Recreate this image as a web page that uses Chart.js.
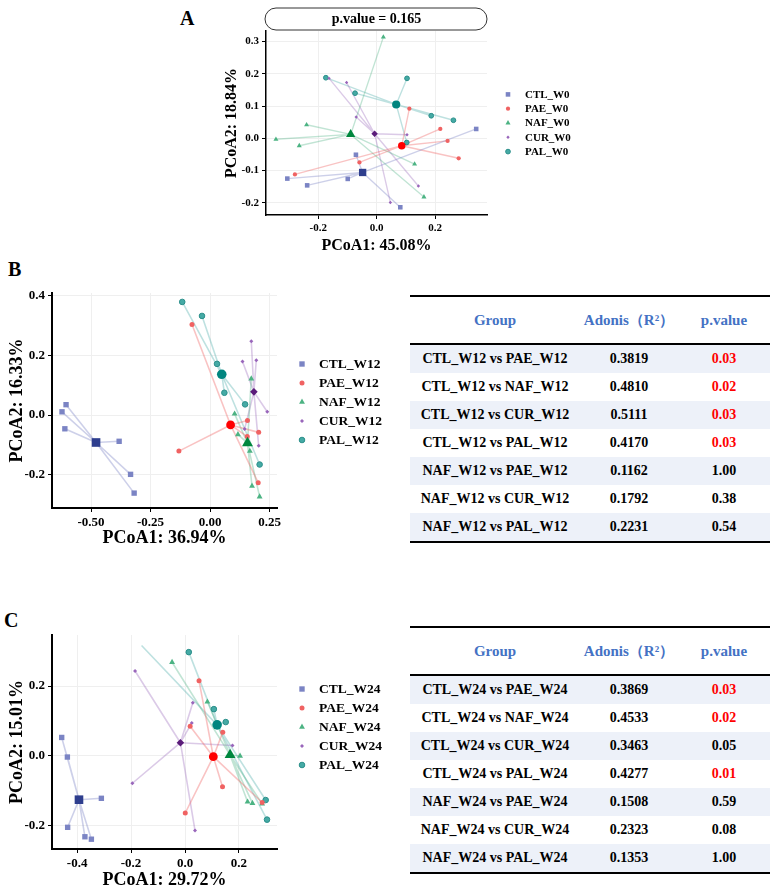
<!DOCTYPE html>
<html>
<head>
<meta charset="utf-8">
<script src="https://cdn.jsdelivr.net/npm/chart.js"></script>
<style>
  body { margin: 0; background: #fff; width: 775px; height: 892px; position: relative; overflow: hidden;
         font-family: 'Liberation Serif', 'Times New Roman', serif; font-weight: bold; color: #000; }
  .tag { position: absolute; font-size: 20px; line-height: 20px; }
  canvas { position: absolute; }
  table { position: absolute; left: 410px; width: 360px; border-collapse: separate; border-spacing: 0; font-size: 14px; }
  th, td { padding: 0; text-align: center; }
  th { height: 46px; color: #4472c4; font-size: 15px; border-top: 2px solid #000; border-bottom: 2px solid #000; }
  td { height: 28px; }
  tr:nth-child(even) td { background: #edf1f9; }
  tr:last-child td { border-bottom: 2px solid #000; }
  .sig { color: #ff0000; }
</style>
</head>
<body>
<div class="tag" style="left:180px;top:8px">A</div>
<div class="tag" style="left:8px;top:259px">B</div>
<div class="tag" style="left:4px;top:610px">C</div>

<canvas id="chartA" width="365" height="256" style="left:215px;top:0px"></canvas>
<canvas id="chartB" width="400" height="270" style="left:0px;top:280px"></canvas>
<canvas id="chartC" width="400" height="270" style="left:0px;top:622px"></canvas>

<table id="tableB" style="top:295px"></table>
<table id="tableC" style="top:626px"></table>

<script>
const groups = ['CTL', 'PAE', 'NAF', 'CUR', 'PAL']

// W0 samples [PCoA1, PCoA2]
const ctlW0 = [[0.341, 0.029], [-0.071, -0.051], [-0.306, -0.125], [-0.238, -0.146], [-0.099, -0.126], [0.081, -0.214]]
const paeW0 = [[-0.280, -0.112], [-0.059, -0.075], [0.112, 0.092], [0.218, 0.029], [0.243, -0.008], [0.281, -0.062]]
const nafW0 = [[0.023, 0.314], [-0.240, 0.042], [-0.345, -0.003], [-0.265, -0.023], [0.130, -0.080], [0.162, -0.182]]
const curW0 = [[-0.163, 0.186], [-0.103, 0.173], [-0.070, 0.066], [0.104, 0.011], [0.143, -0.148], [0.047, -0.199]]
const palW0 = [[-0.174, 0.188], [-0.074, 0.140], [0.104, 0.186], [0.187, 0.070], [0.263, 0.056], [0.103, -0.013]]
const centroidsW0 = [[-0.048, -0.106], [0.086, -0.023], [-0.089, 0.012], [-0.007, 0.014], [0.067, 0.105]]

// W12 samples
const ctlW12 = [[-0.605, 0.035], [-0.622, 0.011], [-0.610, -0.046], [-0.382, -0.088], [-0.334, -0.199], [-0.319, -0.262]]
const paeW12 = [[-0.076, 0.304], [-0.131, -0.121], [0.157, -0.018], [0.156, -0.072], [0.204, -0.058], [0.202, -0.227]]
const nafW12 = [[0.173, 0.122], [0.103, 0.004], [0.117, -0.065], [0.167, -0.121], [0.176, -0.238], [0.208, -0.274]]
const curW12 = [[0.173, 0.248], [0.136, 0.180], [0.194, 0.184], [0.240, 0.011], [0.145, -0.047], [0.204, -0.103]]
const palW12 = [[-0.117, 0.380], [-0.034, 0.333], [0.029, 0.172], [0.060, 0.075], [0.147, 0.036], [0.208, -0.166]]
const centroidsW12 = [[-0.479, -0.092], [0.086, -0.033], [0.157, -0.094], [0.184, 0.078], [0.049, 0.137]]

// W24 samples (first PAL sample only shows as a line end in the original)
const ctlW24 = [[-0.457, 0.053], [-0.436, -0.003], [-0.435, -0.204], [-0.371, -0.231], [-0.347, -0.238], [-0.310, -0.121]]
const paeW24 = [[0.052, 0.215], [0.019, 0.085], [0.140, 0.068], [0.139, -0.088], [0.001, -0.163], [0.286, -0.133]]
const nafW24 = [[-0.048, 0.268], [0.083, 0.155], [0.204, 0.000], [0.232, -0.131], [0.250, -0.135], [0.286, -0.137]]
const curW24 = [[-0.185, 0.243], [0.029, 0.152], [0.025, 0.094], [0.176, 0.030], [-0.195, -0.078], [0.037, -0.213]]
const palW24 = [[-0.161, 0.316], [0.014, 0.297], [0.107, 0.134], [0.151, 0.097], [0.299, -0.126], [0.304, -0.182]]
const centroidsW24 = [[-0.393, -0.125], [0.105, -0.002], [0.167, 0.003], [-0.017, 0.038], [0.119, 0.089]]
const unmarkedW24 = ['PAL:0']

const pValueW0 = 0.165
const axisTitlesW0 = ['PCoA1: 45.08%', 'PCoA2: 18.84%']
const axisTitlesW12 = ['PCoA1: 36.94%', 'PCoA2: 16.33%']
const axisTitlesW24 = ['PCoA1: 29.72%', 'PCoA2: 15.01%']

const xTicksW0 = [-0.2, 0.0, 0.2]
const yTicksW0 = [-0.2, -0.1, 0.0, 0.1, 0.2, 0.3]
const xTicksW12 = [-0.5, -0.25, 0.0, 0.25]
const yTicksW12 = [-0.2, 0.0, 0.2, 0.4]
const xTicksW24 = [-0.4, -0.2, 0.0, 0.2]
const yTicksW24 = [-0.2, 0.0, 0.2]

// adonis tables
const pairsW12 = ['CTL_W12 vs PAE_W12', 'CTL_W12 vs NAF_W12', 'CTL_W12 vs CUR_W12', 'CTL_W12 vs PAL_W12',
  'NAF_W12 vs PAE_W12', 'NAF_W12 vs CUR_W12', 'NAF_W12 vs PAL_W12']
const r2W12 = [0.3819, 0.4810, 0.5111, 0.4170, 0.1162, 0.1792, 0.2231]
const pW12 = [0.03, 0.02, 0.03, 0.03, 1.00, 0.38, 0.54]
const pairsW24 = ['CTL_W24 vs PAE_W24', 'CTL_W24 vs NAF_W24', 'CTL_W24 vs CUR_W24', 'CTL_W24 vs PAL_W24',
  'NAF_W24 vs PAE_W24', 'NAF_W24 vs CUR_W24', 'NAF_W24 vs PAL_W24']
const r2W24 = [0.3869, 0.4533, 0.3463, 0.4277, 0.1508, 0.2323, 0.1353]
const pW24 = [0.03, 0.02, 0.05, 0.01, 0.59, 0.08, 1.00]

const styles = [
  { shape: 'rect', fill: '#7b84c4', edge: '#7b84c4', center: '#2e3e8e', line: 'rgba(123,132,196,0.38)', r: 3.8, cr: 6.1 },
  { shape: 'circle', fill: '#f06262', edge: '#f06262', center: '#ff0000', line: 'rgba(240,98,98,0.38)', r: 2.5, cr: 4.4 },
  { shape: 'triangle', fill: '#4cb383', edge: '#4cb383', center: '#00873e', line: 'rgba(76,179,131,0.35)', r: 3.4, cr: 6.3 },
  { shape: 'rectRot', fill: '#9966bb', edge: '#9966bb', center: '#5b1c7a', line: 'rgba(153,102,187,0.35)', r: 2.0, cr: 3.8 },
  { shape: 'circle', fill: '#45aaa5', edge: '#2b8f8a', center: '#00857f', line: 'rgba(69,170,165,0.35)', r: 2.8, cr: 4.8 }
]

Chart.defaults.font.family = "'Liberation Serif', 'Times New Roman', serif"
Chart.defaults.font.weight = 'bold'
Chart.defaults.color = '#000'

function spiderDatasets (samples, centroids, suffix, k, unmarked = []) {
  const sets = []
  samples.forEach((pts, i) => {
    const st = styles[i]
    const [cx, cy] = centroids[i]
    const segs = []
    pts.forEach(([x, y]) => { segs.push({ x, y }, { x: cx, y: cy }, { x: cx, y: null }) })
    const radii = pts.map((p, j) => unmarked.includes(groups[i] + ':' + j) ? 0 : st.r * k)
    sets.push({
      type: 'line', data: segs, borderColor: st.line, borderWidth: 1.6 * k,
      pointRadius: 0, spanGaps: false, order: 3
    })
    sets.push({
      label: groups[i] + suffix, data: pts.map(([x, y]) => ({ x, y })), inLegend: true,
      pointStyle: st.shape, pointRadius: radii, legendRadius: st.r * k, backgroundColor: st.fill,
      borderColor: st.edge, borderWidth: i === 4 ? 1 : 0, order: 2
    })
    sets.push({
      data: [{ x: cx, y: cy }], pointStyle: st.shape, pointRadius: st.cr * k,
      backgroundColor: st.center, borderColor: st.center, borderWidth: 0, order: 1
    })
  })
  return sets
}

const sideLegend = {
  id: 'sideLegend',
  afterDraw (chart, args, opts) {
    const ctx = chart.ctx
    const items = chart.data.datasets.filter(d => d.inLegend)
    const { right, top, bottom } = chart.chartArea
    const x0 = right + opts.offset
    const y0 = (top + bottom) / 2 + opts.shift - (items.length - 1) * opts.gap / 2
    ctx.save()
    ctx.font = `bold ${opts.size}px 'Liberation Serif'`
    ctx.textBaseline = 'middle'
    items.forEach((d, i) => {
      const y = y0 + i * opts.gap
      ctx.fillStyle = d.backgroundColor
      ctx.strokeStyle = d.borderColor
      ctx.lineWidth = d.borderWidth
      Chart.helpers.drawPoint(ctx, { pointStyle: d.pointStyle, radius: d.legendRadius, rotation: 0, borderWidth: d.borderWidth }, x0, y)
      ctx.fillStyle = '#000'
      ctx.fillText(d.label, x0 + opts.textGap, y + 0.5)
    })
    ctx.restore()
  }
}

const stripBox = {
  id: 'stripBox',
  afterDraw (chart, args, opts) {
    if (!opts.text) return
    const { left, right, top } = chart.chartArea
    const ctx = chart.ctx
    const h = 22
    const y = top - h - 1
    ctx.save()
    ctx.beginPath()
    ctx.roundRect(left - 1, y, right - left + 1, h, 11)
    ctx.lineWidth = 1
    ctx.strokeStyle = '#333'
    ctx.stroke()
    ctx.font = "bold 14px 'Liberation Serif'"
    ctx.fillStyle = '#000'
    ctx.textAlign = 'center'
    ctx.textBaseline = 'middle'
    ctx.fillText(opts.text, (left + right) / 2, y + h / 2 + 0.5)
    ctx.restore()
  }
}

function pcoaChart (id, cfg) {
  const tickList = list => scale => { scale.ticks = list.map(v => ({ value: v })) }
  const axis = (ticks, digits, title, fit) => ({
    type: 'linear',
    afterBuildTicks: tickList(ticks),
    afterFit: fit,
    ticks: { font: { size: cfg.tickSize }, padding: 3, callback: v => v.toFixed(digits) },
    grid: { color: '#efefef', tickColor: '#000', tickLength: 4, lineWidth: 1 },
    border: { display: true, color: '#000', width: cfg.axisWidth },
    title: { display: true, text: title, font: { size: cfg.titleSize } }
  })
  const x = axis(cfg.xTicks, cfg.xDigits, cfg.titles[0], s => { s.height = cfg.xHeight })
  x.min = cfg.xRange[0]; x.max = cfg.xRange[1]
  x.title.padding = { top: 0, bottom: cfg.xTitlePad }
  const y = axis(cfg.yTicks, cfg.yDigits, cfg.titles[1], s => { s.width = cfg.yWidth })
  y.min = cfg.yRange[0]; y.max = cfg.yRange[1]
  y.title.padding = { top: cfg.yTitlePad, bottom: 0 }

  return new Chart(document.getElementById(id), {
    type: 'scatter',
    data: { datasets: spiderDatasets(cfg.samples, cfg.centroids, cfg.suffix, cfg.k, cfg.unmarked) },
    options: {
      responsive: false,
      animation: false,
      events: [],
      layout: { padding: cfg.padding },
      scales: { x, y },
      plugins: {
        legend: { display: false },
        tooltip: { enabled: false },
        sideLegend: cfg.legend,
        stripBox: { text: cfg.strip }
      }
    },
    plugins: [sideLegend, stripBox]
  })
}

pcoaChart('chartA', {
  samples: [ctlW0, paeW0, nafW0, curW0, palW0], centroids: centroidsW0, suffix: '_W0', k: 0.85,
  xTicks: xTicksW0, yTicks: yTicksW0, xDigits: 1, yDigits: 1, titles: axisTitlesW0,
  xRange: [-0.379, 0.378], yRange: [-0.238, 0.333],
  tickSize: 11, titleSize: 16, axisWidth: 1.5,
  xHeight: 41, yWidth: 51, xTitlePad: 1, yTitlePad: 7,
  padding: { top: 31, right: 93, left: 0, bottom: 0 },
  legend: { offset: 21, textGap: 17, gap: 14.3, size: 11, shift: 0 },
  strip: 'p.value = ' + pValueW0
})

pcoaChart('chartB', {
  samples: [ctlW12, paeW12, nafW12, curW12, palW12], centroids: centroidsW12, suffix: '_W12', k: 1,
  xTicks: xTicksW12, yTicks: yTicksW12, xDigits: 2, yDigits: 1, titles: axisTitlesW12,
  xRange: [-0.664, 0.281], yRange: [-0.312, 0.41],
  tickSize: 13, titleSize: 18, axisWidth: 2,
  xHeight: 42, yWidth: 52, xTitlePad: 1, yTitlePad: 7,
  padding: { top: 13, right: 123, left: 0, bottom: 0 },
  legend: { offset: 25, textGap: 17, gap: 19, size: 13.5, shift: 1.5 },
  strip: null
})

pcoaChart('chartC', {
  samples: [ctlW24, paeW24, nafW24, curW24, palW24], centroids: centroidsW24, suffix: '_W24', k: 1,
  unmarked: unmarkedW24,
  xTicks: xTicksW24, yTicks: yTicksW24, xDigits: 1, yDigits: 1, titles: axisTitlesW24,
  xRange: [-0.493, 0.341], yRange: [-0.266, 0.346],
  tickSize: 13, titleSize: 18, axisWidth: 2,
  xHeight: 43, yWidth: 52, xTitlePad: 1, yTitlePad: 7,
  padding: { top: 13, right: 123, left: 0, bottom: 0 },
  legend: { offset: 25, textGap: 17, gap: 19, size: 13.5, shift: -15 },
  strip: null
})

function fillTable (id, pairs, r2, pv) {
  const rows = ['<tr><th style="width:170px">Group</th><th style="width:98px">Adonis（R²）</th><th>p.value</th></tr>']
  pairs.forEach((g, i) => {
    const cls = pv[i] < 0.05 ? ' class="sig"' : ''
    rows.push(`<tr><td>${g}</td><td>${r2[i].toFixed(4)}</td><td${cls}>${pv[i].toFixed(2)}</td></tr>`)
  })
  document.getElementById(id).innerHTML = rows.join('')
}

fillTable('tableB', pairsW12, r2W12, pW12)
fillTable('tableC', pairsW24, r2W24, pW24)
</script>
</body>
</html>
